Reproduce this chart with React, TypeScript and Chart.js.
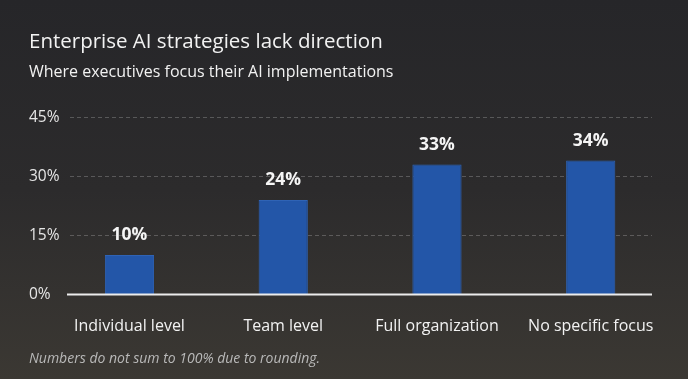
import React, { useEffect, useRef } from "react";
import { Chart, registerables } from "chart.js";

Chart.register(...registerables);

const TITLE = "Enterprise AI strategies lack direction";
const SUBTITLE = "Where executives focus their AI implementations";
const FOOTNOTE = "Numbers do not sum to 100% due to rounding.";
const categories = ["Individual level", "Team level", "Full organization", "No specific focus"];
const values = [10, 24, 33, 34];
const yTicks = [0, 15, 30, 45];

const FONT = "'Open Sans', Lato, sans-serif";

const customPlugin = {
  id: "custom",
  beforeDraw(chart: any) {
    const { ctx, width, height } = chart;
    const g = ctx.createLinearGradient(0, 0, 0, height);
    g.addColorStop(0, "#262629");
    g.addColorStop(0.5, "#2c2b2c");
    g.addColorStop(1, "#3b3833");
    ctx.save();
    ctx.fillStyle = g;
    ctx.fillRect(0, 0, width, height);

    ctx.fillStyle = "#f2f2f2";
    ctx.textBaseline = "middle";
    ctx.textAlign = "left";
    ctx.font = `20.5px ${FONT}`;
    ctx.fillText(TITLE, 29, 42);
    ctx.font = `16px ${FONT}`;
    ctx.fillText(SUBTITLE, 29, 72);

    const y = chart.scales.y;
    yTicks.forEach((t) => {
      const py = y.getPixelForValue(t);
      ctx.fillStyle = "#e6e6e6";
      ctx.font = `15.5px ${FONT}`;
      ctx.fillText(`${t}%`, 29, py);
      if (t === 0) return;
      ctx.beginPath();
      ctx.setLineDash([4, 3]);
      ctx.strokeStyle = "rgba(255,255,255,0.22)";
      ctx.lineWidth = 1;
      ctx.moveTo(70, Math.round(py) + 0.5);
      ctx.lineTo(652, Math.round(py) + 0.5);
      ctx.stroke();
    });
    ctx.setLineDash([]);

    ctx.fillStyle = "#b9b9b9";
    ctx.font = `italic 14px ${FONT}`;
    ctx.fillText(FOOTNOTE, 29, 359);
    ctx.restore();
  },
  afterDatasetsDraw(chart: any) {
    const { ctx } = chart;
    const y = chart.scales.y;
    const py = y.getPixelForValue(0);
    ctx.save();
    ctx.strokeStyle = "#ececec";
    ctx.lineWidth = 2;
    ctx.beginPath();
    ctx.moveTo(67, py);
    ctx.lineTo(652, py);
    ctx.stroke();

    const meta = chart.getDatasetMeta(0);
    ctx.fillStyle = "#f5f5f5";
    ctx.font = `bold 17.5px ${FONT}`;
    ctx.textAlign = "center";
    ctx.textBaseline = "middle";
    meta.data.forEach((bar: any, i: number) => {
      ctx.fillText(`${values[i]}%`, bar.x, bar.y - 20);
    });
    ctx.restore();
  },
};

export default function App() {
  const ref = useRef<HTMLCanvasElement>(null);
  useEffect(() => {
    document.body.style.margin = "0";
    const chart = new Chart(ref.current!, {
      type: "bar",
      data: {
        labels: categories,
        datasets: [
          {
            data: values,
            backgroundColor: "#2356a8",
            borderColor: "#2f63b5",
            borderWidth: 1,
            categoryPercentage: 1,
            barPercentage: 0.32,
          },
        ],
      },
      options: {
        animation: false,
        responsive: false,
        devicePixelRatio: 1,
        layout: { padding: { left: 52.6, right: 20.4, top: 117.3, bottom: 21.3 } },
        plugins: { legend: { display: false }, tooltip: { enabled: false } },
        scales: {
          x: {
            grid: { display: false, drawTicks: false },
            border: { display: false },
            ticks: { color: "#f2f2f2", font: { family: FONT, size: 16 }, padding: 22, maxRotation: 0 },
          },
          y: { display: false, min: 0, max: 45 },
        },
      },
      plugins: [customPlugin],
    });
    return () => chart.destroy();
  }, []);
  return <canvas ref={ref} width={688} height={379} style={{ display: "block" }} />;
}
